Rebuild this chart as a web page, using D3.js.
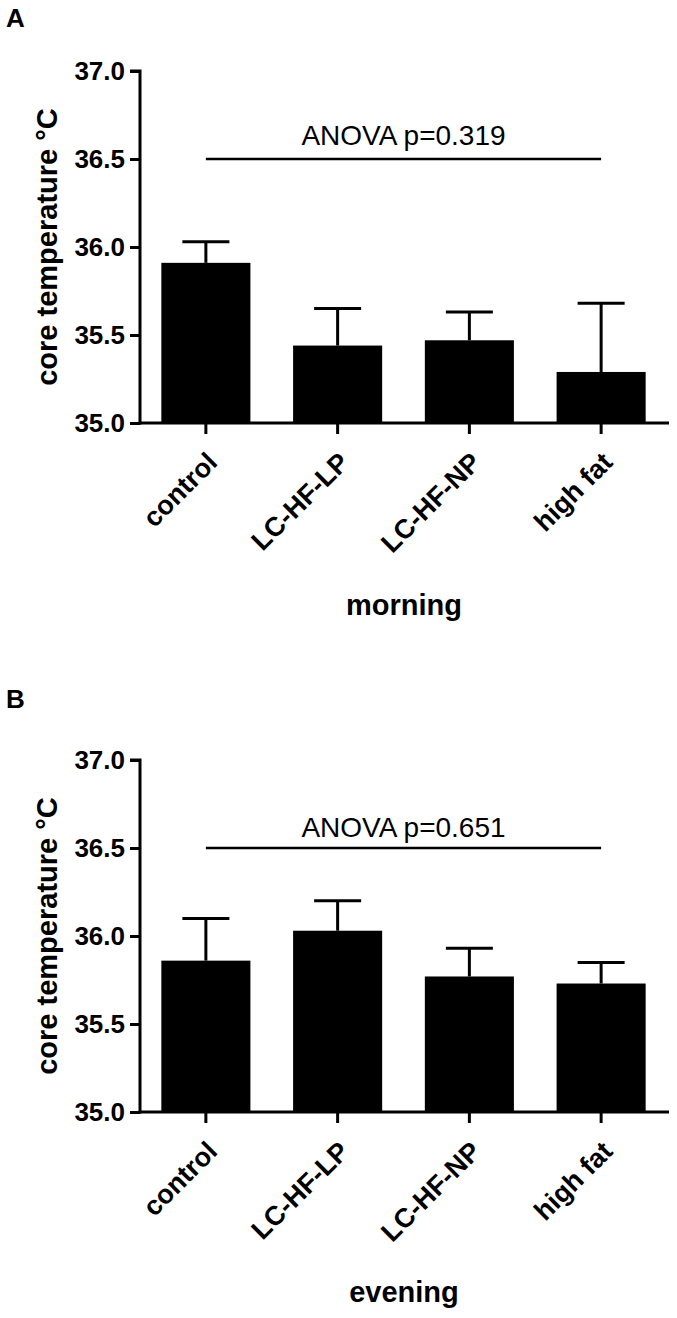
<!DOCTYPE html>
<html>
<head>
<meta charset="utf-8">
<script src="https://cdn.jsdelivr.net/npm/d3@7"></script>
<style>
  html, body { margin: 0; padding: 0; background: #fff; }
  text { font-family: "Liberation Sans", Arial, Helvetica, sans-serif; }
</style>
</head>
<body>
<svg id="chart" width="677" height="1318"></svg>
<script>
// ---------- data ----------
const categories = ["control", "LC-HF-LP", "LC-HF-NP", "high fat"];
const yTicks = [35.0, 35.5, 36.0, 36.5, 37.0];

const morningMean = [35.91, 35.44, 35.47, 35.29];
const morningUpper = [36.03, 35.65, 35.63, 35.68];
const morningP = "ANOVA p=0.319";

const eveningMean = [35.86, 36.03, 35.77, 35.73];
const eveningUpper = [36.10, 36.20, 35.93, 35.85];
const eveningP = "ANOVA p=0.651";

const anovaLevel = 36.5;

// ---------- layout ----------
const svg = d3.select("#chart");

const panels = [
  { letter: "A", letterY: 27, top: 71, bottom: 423, mean: morningMean, upper: morningUpper,
    pText: morningP, pGap: 14, xTitle: "morning", xTitleY: 615 },
  { letter: "B", letterY: 708, top: 760, bottom: 1112, mean: eveningMean, upper: eveningUpper,
    pText: eveningP, pGap: 11, xTitle: "evening", xTitleY: 1302 }
];

const x = d3.scaleBand().domain(categories).range([140, 667])
  .paddingInner(0.324).paddingOuter(0.162);

panels.forEach(p => {
  const y = d3.scaleLinear().domain([35, 37]).range([p.bottom, p.top]);
  const g = svg.append("g");

  // panel letter
  g.append("text").attr("x", 6).attr("y", p.letterY)
    .attr("font-size", 26).attr("font-weight", "bold").text(p.letter);

  // bars
  g.selectAll("rect.bar").data(categories).enter().append("rect")
    .attr("class", "bar")
    .attr("x", d => x(d))
    .attr("width", x.bandwidth())
    .attr("y", (d, i) => y(p.mean[i]))
    .attr("height", (d, i) => y(35) - y(p.mean[i]))
    .attr("fill", "#000");

  // error bars (upper only)
  const capW = 47;
  categories.forEach((c, i) => {
    const cx = x(c) + x.bandwidth() / 2;
    g.append("line").attr("x1", cx).attr("x2", cx)
      .attr("y1", y(p.mean[i])).attr("y2", y(p.upper[i]))
      .attr("stroke", "#000").attr("stroke-width", 3);
    g.append("line").attr("x1", cx - capW / 2).attr("x2", cx + capW / 2)
      .attr("y1", y(p.upper[i])).attr("y2", y(p.upper[i]))
      .attr("stroke", "#000").attr("stroke-width", 3);
  });

  // y axis
  const yAxis = d3.axisLeft(y).tickValues(yTicks).tickFormat(d3.format(".1f"))
    .tickSize(10).tickPadding(5);
  const ya = g.append("g").attr("transform", "translate(140,0)").call(yAxis);
  ya.select(".domain").attr("stroke", "#000").attr("stroke-width", 3)
    .attr("d", `M-10,${p.top}H0V${p.bottom + 1.5}`);
  ya.selectAll(".tick line").attr("stroke", "#000").attr("stroke-width", 3);
  ya.selectAll(".tick text").attr("font-size", 26).attr("font-weight", "bold")
    .attr("fill", "#000").attr("font-family", "'Liberation Sans', Arial, sans-serif");

  // x axis
  const xAxis = d3.axisBottom(x).tickSize(11).tickFormat("");
  const xa = g.append("g").attr("transform", `translate(0,${p.bottom})`).call(xAxis);
  xa.select(".domain").attr("stroke", "#000").attr("stroke-width", 3)
    .attr("d", "M138.5,0H669");
  xa.selectAll(".tick line").attr("stroke", "#000").attr("stroke-width", 3);

  // x labels rotated
  g.selectAll("text.xl").data(categories).enter().append("text")
    .attr("class", "xl")
    .attr("text-anchor", "end")
    .attr("font-size", 27).attr("font-weight", "bold")
    .attr("transform", d => `translate(${x(d) + x.bandwidth() / 2 + 13},${p.bottom + 41}) rotate(-45)`)
    .text(d => d);

  // y title
  g.append("text")
    .attr("transform", `translate(57,${(p.top + p.bottom) / 2}) rotate(-90)`)
    .attr("text-anchor", "middle")
    .attr("font-size", 29).attr("font-weight", "bold")
    .text("core temperature \u00B0C");

  // x title
  g.append("text").attr("x", 404).attr("y", p.xTitleY)
    .attr("text-anchor", "middle").attr("font-size", 29).attr("font-weight", "bold")
    .text(p.xTitle);

  // ANOVA line
  const x1 = x(categories[0]) + x.bandwidth() / 2;
  const x2 = x(categories[3]) + x.bandwidth() / 2;
  g.append("line").attr("x1", x1).attr("x2", x2)
    .attr("y1", y(anovaLevel)).attr("y2", y(anovaLevel))
    .attr("stroke", "#000").attr("stroke-width", 2.3);
  g.append("text").attr("x", (x1 + x2) / 2).attr("y", y(anovaLevel) - p.pGap)
    .attr("text-anchor", "middle").attr("font-size", 28)
    .text(p.pText);
});
</script>
</body>
</html>
